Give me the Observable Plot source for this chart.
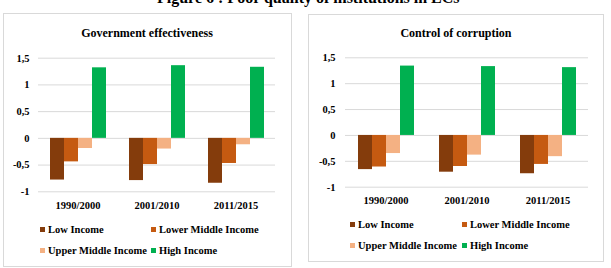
<!DOCTYPE html>
<html>
<head>
<meta charset="utf-8">
<script src="https://cdn.jsdelivr.net/npm/d3@7"></script>
<script src="https://cdn.jsdelivr.net/npm/@observablehq/plot@0.6"></script>
<style>
  html, body { margin: 0; padding: 0; background: #fff; }
  body { position: relative; width: 611px; height: 268px; overflow: hidden;
         font-family: "Liberation Serif", "Times New Roman", "DejaVu Serif", serif; font-weight: bold; color: #000; }
  .abs { position: absolute; }
  .frame { position: absolute; box-sizing: border-box; border: 1px solid #d9d9d9; }
  .fig-title { font-size: 16px; line-height: 16px; white-space: nowrap; }
  .panel-title { font-size: 12px; line-height: 12px; text-align: center; white-space: nowrap; }
  .lg-swatches { margin: 0 !important; font-family: "Liberation Serif", "Times New Roman", "DejaVu Serif", serif !important;
                 font-size: 10.5px !important; font-weight: bold; color: #000; }
  .lg-swatch { margin: 0 !important; white-space: nowrap; }
  .lg-swatch > svg { margin-right: 3px !important; }
  svg text { font-family: "Liberation Serif", "Times New Roman", "DejaVu Serif", serif; }
</style>
</head>
<body>
<script>
// Periods, income groups and indicator values
const periods = ["1990/2000", "2001/2010", "2011/2015"];
const groups = ["Low Income", "Lower Middle Income", "Upper Middle Income", "High Income"];
const groupColors = ["#843c0c", "#c55a11", "#f4b183", "#00b050"];
const yTicks = [-1, -0.5, 0, 0.5, 1, 1.5];

// Government effectiveness, one array per income group (by period)
const govLow = [-0.78, -0.79, -0.84];
const govLowerMid = [-0.44, -0.49, -0.47];
const govUpperMid = [-0.19, -0.20, -0.12];
const govHigh = [1.32, 1.36, 1.33];

// Control of corruption, one array per income group (by period)
const corLow = [-0.66, -0.71, -0.74];
const corLowerMid = [-0.61, -0.60, -0.56];
const corUpperMid = [-0.35, -0.38, -0.41];
const corHigh = [1.34, 1.33, 1.31];

const serif = "'Liberation Serif', 'Times New Roman', 'DejaVu Serif', serif";

function toRows(seriesList) {
  const rows = [];
  periods.forEach((p, i) => {
    groups.forEach((g, j) => rows.push({period: p, group: g, value: seriesList[j][i]}));
  });
  return rows;
}

const commaFormat = d => String(d).replace(".", ",");

function place(el, left, top) {
  el.classList.add("abs");
  el.style.left = left + "px";
  el.style.top = top + "px";
  document.body.appendChild(el);
  return el;
}

function addDiv(cls, text, left, top, width) {
  const div = document.createElement("div");
  div.className = cls;
  if (text) div.textContent = text;
  if (width !== undefined) div.style.width = width + "px";
  return place(div, left, top);
}

function panel(cfg) {
  // outer box
  const box = document.createElement("div");
  box.className = "frame";
  box.style.left = cfg.box[0] + "px";
  box.style.top = cfg.box[1] + "px";
  box.style.width = (cfg.box[2] - cfg.box[0]) + "px";
  box.style.height = (cfg.box[3] - cfg.box[1]) + "px";
  document.body.appendChild(box);

  // title
  addDiv("panel-title", cfg.title, cfg.titleX - 100, cfg.titleTop, 200);

  // grouped bar chart
  const chart = Plot.plot({
    width: cfg.width,
    height: cfg.height,
    marginLeft: cfg.marginLeft,
    marginRight: cfg.marginRight,
    marginTop: cfg.marginTop,
    marginBottom: cfg.marginBottom,
    style: {fontFamily: serif, fontSize: "10.5px", fontWeight: "bold", color: "#000", background: "transparent", overflow: "visible"},
    fx: {domain: periods, padding: 0, axis: "bottom", label: null, tickSize: 0, tickPadding: cfg.fxPad},
    x: {domain: groups, paddingInner: 0, paddingOuter: 0.74, axis: null},
    y: {domain: [-1, 1.5], ticks: yTicks, tickFormat: commaFormat, tickSize: 0, tickPadding: cfg.yPad, label: null},
    color: {domain: groups, range: groupColors},
    marks: [
      Plot.ruleY(yTicks, {stroke: "#d9d9d9", strokeWidth: 1}),
      Plot.barY(cfg.rows, {fx: "period", x: "group", y: "value", fill: "group"})
    ]
  });
  place(chart, cfg.left, 0);

  // legend
  const legend = Plot.legend({
    color: {domain: groups, range: groupColors},
    legend: "swatches",
    swatchSize: 5,
    className: "lg"
  });
  legend.style.width = (cfg.colW * 2 + 10) + "px";
  legend.querySelectorAll(".lg-swatch").forEach(s => {
    s.style.width = cfg.colW + "px";
    s.style.height = cfg.rowH + "px";
  });
  place(legend, cfg.legendX, cfg.legendTop);
}

// figure heading (runs off the top edge)
addDiv("fig-title", "Figure 6 : Poor quality of institutions in LCs", 157, -10.5);

panel({
  box: [3, 13, 292, 267],
  title: "Government effectiveness",
  titleX: 147, titleTop: 27,
  rows: toRows([govLow, govLowerMid, govUpperMid, govHigh]),
  left: 0, width: 292, height: 214,
  marginLeft: 37, marginRight: 17, marginTop: 57.7, marginBottom: 22.7,
  fxPad: 10, yPad: 9,
  legendX: 40, legendTop: 219.5, colW: 111, rowH: 20.5
});

panel({
  box: [308, 14, 604, 262],
  title: "Control of corruption",
  titleX: 456, titleTop: 27,
  rows: toRows([corLow, corLowerMid, corUpperMid, corHigh]),
  left: 305, width: 300, height: 209,
  marginLeft: 39, marginRight: 17, marginTop: 57.3, marginBottom: 22.3,
  fxPad: 9, yPad: 10,
  legendX: 350, legendTop: 214.2, colW: 112, rowH: 21
});
</script>
</body>
</html>
